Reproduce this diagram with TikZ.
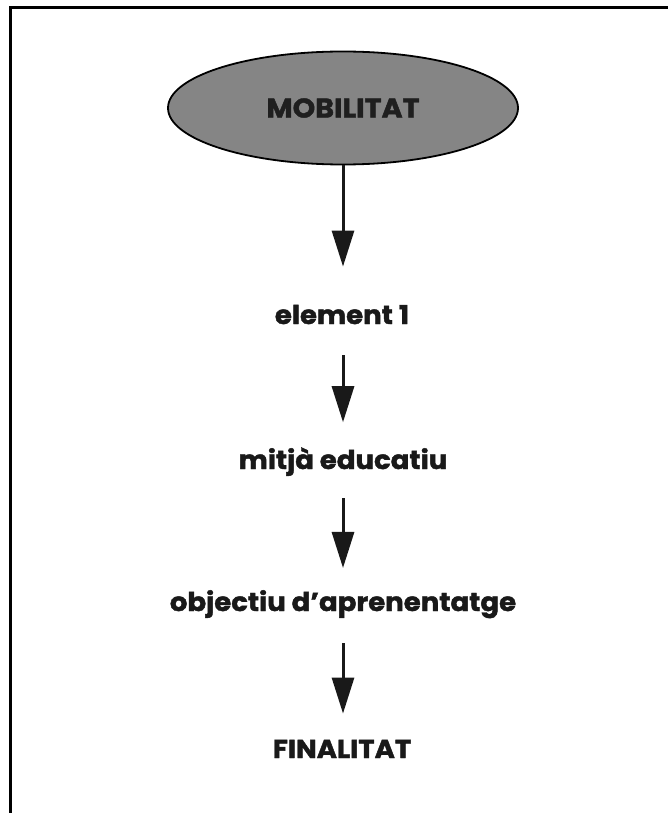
\documentclass[tikz,border=0pt]{standalone}
\usepackage{fontspec}
\setmainfont{Poppins}[BoldFont={* Bold}, BoldFeatures={FakeStretch=1.06, FakeBold=1.6}]
\usetikzlibrary{arrows.meta,shapes.geometric}
\begin{document}
\begin{tikzpicture}[x=1pt,y=-1pt,
  label text/.style={font=\bfseries\fontsize{26}{30}\selectfont, text=black!90,
    inner sep=0pt, anchor=base},
  flow/.style={line width=3pt, draw=black!90, -{Triangle[width=22pt,length=36pt]}},
  hub/.style={ellipse, draw=black, line width=1.8pt, fill=black!48,
    minimum width=350pt, minimum height=113pt, inner sep=0pt,
    font=\bfseries\fontsize{27}{30}\selectfont, text=black!88}]
  \useasboundingbox (0,0) rectangle (668,813);
  % open frame: top rule and left rule
  \coordinate (tl) at (10,8);
  \coordinate (tr) at (668,8);
  \coordinate (bl) at (10,813);
  \draw[line width=3pt] (tr) -- (tl) -- (bl);
  % nodes
  \node[hub] (mob) at (343,108) {MOBILITAT};
  \node[label text] (el) at (342,324) {element 1};
  \node[label text] (mit) at (343,469) {mitjà educatiu};
  \node[label text] (obj) at (343,611) {objectiu d’aprenentatge};
  \node[label text] (fin) at (342,758) {FINALITAT};
  % arrows
  \draw[flow, shorten >=38pt] (mob.south) -- (mob.south |- el.north);
  \draw[flow, shorten <=31pt, shorten >=25pt] (mob.south |- el.south) -- (mob.south |- mit.north);
  \draw[flow, shorten <=22pt, shorten >=22pt] (mob.south |- mit.south) -- (mob.south |- obj.north);
  \draw[flow, shorten <=25pt, shorten >=26pt] (mob.south |- obj.south) -- (mob.south |- fin.north);
\end{tikzpicture}
\end{document}
